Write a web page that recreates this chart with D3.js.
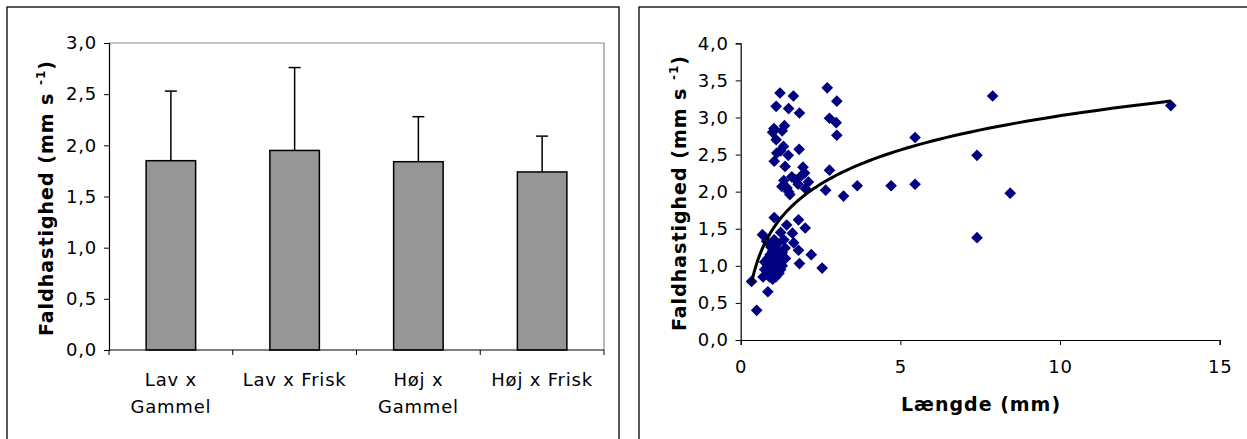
<!DOCTYPE html>
<html>
<head>
<meta charset="utf-8">
<script src="https://cdn.jsdelivr.net/npm/d3@7"></script>
<style>
  html, body { margin: 0; padding: 0; background: #fff; }
  svg { display: block; font-family: "DejaVu Sans", Verdana, sans-serif; }
  .tick-label { font-size: 18px; fill: #000; letter-spacing: 0.8px; }
  .axis-title { font-size: 19px; font-weight: bold; fill: #000; letter-spacing: 1px; }
</style>
</head>
<body>
<svg id="chart" width="1247" height="439"></svg>
<script>
// ---- Bar chart data: mean fall speed per treatment with standard deviation ----
const barCategories = [["Lav x", "Gammel"], ["Lav x Frisk"], ["Høj x", "Gammel"], ["Høj x Frisk"]];
const barMeans = [1.85, 1.95, 1.84, 1.74];
const barUpper = [2.53, 2.76, 2.28, 2.09];
const barTicks = [0, 0.5, 1.0, 1.5, 2.0, 2.5, 3.0];

// ---- Scatter data: length (mm) vs fall speed (mm s-1) ----
const lengthMm = [
  1.23, 1.65, 1.11, 1.50, 1.84, 1.04, 1.37, 1.00, 1.11, 1.30, 1.83, 1.34, 1.05, 1.13, 1.49, 1.25, 1.39, 1.95,
  1.29, 1.54, 1.72, 1.91, 2.12, 2.03, 1.45, 1.60, 1.35, 1.80, 1.50, 2.00,
  2.71, 3.01, 2.78, 2.99, 3.01, 2.78, 2.66, 3.22, 3.65, 4.71, 5.46, 5.46, 7.89, 13.47, 7.40, 8.44, 7.40,
  1.81, 2.02, 1.44, 1.62, 1.66, 1.81, 1.84, 2.21, 2.55, 1.39, 1.05, 0.68, 0.81, 0.34, 0.50, 0.85,
  0.75, 0.85, 0.95, 1.00, 1.05, 1.10, 1.15, 0.90, 1.20, 1.25, 1.30, 1.15, 1.00, 0.80, 1.10, 1.35, 1.20, 0.95, 1.40, 0.70, 1.05, 1.25,
  0.90, 1.00, 1.10, 0.95, 1.05, 1.20, 0.85, 1.15, 1.00, 1.30, 0.75, 1.10, 0.92, 1.25
];
const fallSpeed = [
  3.33, 3.29, 3.15, 3.12, 3.06, 2.85, 2.89, 2.80, 2.70, 2.82, 2.57, 2.61, 2.41, 2.52, 2.49, 2.55, 2.34, 2.33,
  2.07, 1.96, 2.16, 2.22, 2.13, 2.04, 2.05, 2.20, 2.15, 2.10, 2.00, 2.25,
  3.40, 3.22, 2.99, 2.93, 2.76, 2.29, 2.02, 1.94, 2.08, 2.08, 2.73, 2.10, 3.29, 3.16, 2.49, 1.98, 1.38,
  1.62, 1.51, 1.55, 1.44, 1.31, 1.21, 1.03, 1.15, 0.97, 1.24, 1.65, 1.42, 1.33, 0.79, 0.40, 0.65,
  1.05, 1.10, 1.00, 0.90, 1.15, 1.05, 0.95, 0.85, 1.20, 1.10, 1.00, 1.30, 1.20, 0.95, 0.85, 1.35, 0.90, 1.25, 1.10, 0.85, 1.35, 1.45,
  0.92, 1.00, 0.98, 1.08, 0.88, 1.02, 1.00, 1.12, 0.82, 1.18, 0.95, 1.20, 1.15, 0.95
];
const scatterYTicks = [0, 0.5, 1.0, 1.5, 2.0, 2.5, 3.0, 3.5, 4.0];
const scatterXTicks = [0, 5, 10, 15];

const fmt = v => d3.format(".1f")(v).replace(".", ",");
const svg = d3.select("#chart");

// ---------------- Left panel: bar chart ----------------
svg.append("rect").attr("x", 7).attr("y", 7).attr("width", 612).attr("height", 450)
  .attr("fill", "none").attr("stroke", "#000").attr("stroke-width", 1.3);

const bL = 109, bR = 604, bT = 43, bB = 350;
const xBar = d3.scaleBand().domain(d3.range(barMeans.length)).range([bL, bR])
  .paddingInner(0.6).paddingOuter(0.3);
const yBar = d3.scaleLinear().domain([0, 3]).range([bB, bT]);

// plot area frame (grey top/right)
svg.append("path").attr("d", `M${bL},${bT}H${bR}V${bB}`)
  .attr("fill", "none").attr("stroke", "#8c8c8c").attr("stroke-width", 1.2);

const bars = svg.append("g");
barMeans.forEach((m, i) => {
  const cx = xBar(i) + xBar.bandwidth() / 2;
  bars.append("line").attr("x1", cx).attr("x2", cx)
    .attr("y1", yBar(m)).attr("y2", yBar(barUpper[i]))
    .attr("stroke", "#000").attr("stroke-width", 1.5);
  bars.append("line").attr("x1", cx - 6).attr("x2", cx + 6)
    .attr("y1", yBar(barUpper[i])).attr("y2", yBar(barUpper[i]))
    .attr("stroke", "#000").attr("stroke-width", 1.5);
  bars.append("rect").attr("x", xBar(i)).attr("y", yBar(m))
    .attr("width", xBar.bandwidth()).attr("height", yBar(0) - yBar(m))
    .attr("fill", "#969696").attr("stroke", "#000").attr("stroke-width", 1.5);
});

// y axis
const yAxisL = svg.append("g").attr("transform", `translate(${bL},0)`)
  .call(d3.axisLeft(yBar).tickValues(barTicks).tickFormat(fmt).tickSizeOuter(0).tickSize(5).tickPadding(7));
// x axis with ticks at category boundaries
const xAxisL = svg.append("g").attr("transform", `translate(0,${bB})`);
xAxisL.append("line").attr("x1", bL).attr("x2", bR).attr("stroke", "#000").attr("stroke-width", 1.2);
d3.range(barMeans.length + 1).forEach(i => {
  const x = bL + i * xBar.step();
  xAxisL.append("line").attr("x1", x).attr("x2", x).attr("y1", 0).attr("y2", 5)
    .attr("stroke", "#000").attr("stroke-width", 1);
});
barCategories.forEach((lines, i) => {
  const cx = xBar(i) + xBar.bandwidth() / 2;
  const t = xAxisL.append("text").attr("class", "tick-label").attr("text-anchor", "middle")
    .attr("x", cx).attr("y", 36);
  lines.forEach((ln, j) => t.append("tspan").attr("x", cx).attr("dy", j === 0 ? 0 : 27).text(ln));
});

// ---------------- Right panel: scatter ----------------
svg.append("rect").attr("x", 639).attr("y", 7).attr("width", 650).attr("height", 450)
  .attr("fill", "none").attr("stroke", "#000").attr("stroke-width", 1.3);

const sL = 740.7, sR = 1219.7, sT = 43.3, sB = 340;
const xS = d3.scaleLinear().domain([0, 15]).range([sL, sR]);
const yS = d3.scaleLinear().domain([0, 4]).range([sB, sT]);

const yAxisR = svg.append("g").attr("transform", `translate(${sL},0)`)
  .call(d3.axisLeft(yS).tickValues(scatterYTicks).tickFormat(fmt).tickSizeOuter(0).tickSize(5).tickPadding(7));
const xAxisR = svg.append("g").attr("transform", `translate(0,${sB})`)
  .call(d3.axisBottom(xS).tickValues(scatterXTicks).tickFormat(d3.format("d")).tickSizeOuter(0).tickSize(5).tickPadding(15));

[yAxisL, yAxisR, xAxisR].forEach(g => {
  g.attr("font-size", null).attr("font-family", null);
  g.select(".domain").attr("stroke", "#000").attr("stroke-width", 1.2);
  g.selectAll(".tick line").attr("stroke", "#000");
  g.selectAll(".tick text").attr("class", "tick-label");
});

// points
const pts = lengthMm.map((x, i) => [x, fallSpeed[i]]);
svg.append("g").selectAll("path").data(pts).join("path")
  .attr("d", d3.symbol(d3.symbolSquare, 68)())
  .attr("transform", d => `translate(${xS(d[0])},${yS(d[1])}) rotate(45)`)
  .attr("fill", "#000080");

// logarithmic least-squares trendline: y = a + b ln(x)
const lx = pts.map(p => Math.log(p[0]));
const mx = d3.mean(lx), my = d3.mean(pts, p => p[1]);
const b = d3.sum(pts, (p, i) => (lx[i] - mx) * (p[1] - my)) / d3.sum(lx, v => (v - mx) ** 2);
const a = my - b * mx;
const xMin = d3.min(lengthMm), xMax = d3.max(lengthMm);
const trend = d3.range(0, 101).map(k => {
  const x = xMin * Math.pow(xMax / xMin, k / 100);
  return [x, a + b * Math.log(x)];
});
svg.append("path").datum(trend)
  .attr("d", d3.line().x(d => xS(d[0])).y(d => yS(d[1])))
  .attr("fill", "none").attr("stroke", "#000").attr("stroke-width", 3);

// axis titles
function yTitle(x, y) {
  const t = svg.append("text").attr("class", "axis-title").attr("text-anchor", "middle")
    .attr("transform", `translate(${x},${y}) rotate(-90)`);
  t.append("tspan").text("Faldhastighed (mm s ");
  t.append("tspan").attr("font-size", "12px").attr("dy", -8).text("-1");
  t.append("tspan").attr("dy", 8).text(")");
}
yTitle(53, 198);
yTitle(686, 193);
svg.append("text").attr("class", "axis-title").attr("text-anchor", "middle")
  .attr("x", 981).attr("y", 411).text("Længde (mm)");
</script>
</body>
</html>
